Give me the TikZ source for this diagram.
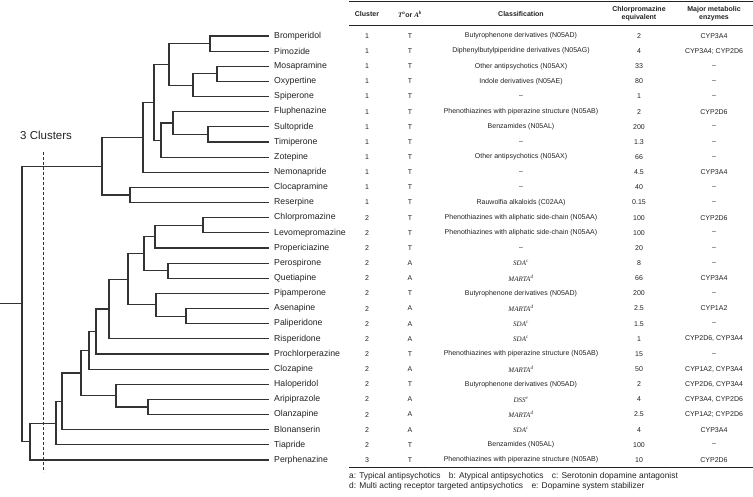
\documentclass[tikz,border=0pt]{standalone}
\usepackage{fontspec}
\setmainfont{Liberation Sans}
\newfontfamily\serfont{Liberation Serif}
\usetikzlibrary{calc}
\definecolor{ink}{HTML}{222222}
\definecolor{treeink}{HTML}{333333}
\newcommand\mycls[2]{{\serfont\itshape #1\textsuperscript{#2}}}
\newcommand\mrg[4]{%
  \coordinate (#1-m) at ($(#3)!0.5!(#4)$);
  \coordinate (#1-x) at (#2,0);
  \coordinate (#1) at (#1-x |- #1-m);
  \draw[tree] (#3) -| (#1) |- (#4);}
\tikzset{
  tree/.style={draw=treeink,line width=1.2pt},
  leaf/.style={anchor=west,inner sep=0pt,font=\fontsize{8.7}{10}\selectfont,text=ink},
  cell/.style={inner sep=0pt,font=\fontsize{7}{8}\selectfont,text=ink},
  hdr/.style={inner sep=0pt,align=center,font=\fontsize{7}{8}\selectfont\bfseries,text=ink},
  fn/.style={anchor=west,inner sep=0pt,font=\fontsize{8.4}{10}\selectfont,text=ink},
  rulethick/.style={draw=ink,line width=1pt},
  rulethin/.style={draw=ink,line width=0.6pt},
  cut/.style={draw=treeink,line width=0.8pt,dash pattern=on 3pt off 2pt}
}
\begin{document}
\begin{tikzpicture}[x=1pt,y=-1pt]
\useasboundingbox (0,0) rectangle (753,497);
% leaves and table rows
\foreach \i/\nm/\cl/\ty/\cs/\eq/\en in {
 1/{Bromperidol}/1/T/{Butyrophenone derivatives (N05AD)}/2/{CYP3A4},
 2/{Pimozide}/1/T/{Diphenylbutylpiperidine derivatives (N05AG)}/4/{CYP3A4; CYP2D6},
 3/{Mosapramine}/1/T/{Other antipsychotics (N05AX)}/33/{–},
 4/{Oxypertine}/1/T/{Indole derivatives (N05AE)}/80/{–},
 5/{Spiperone}/1/T/{–}/1/{–},
 6/{Fluphenazine}/1/T/{Phenothiazines with piperazine structure (N05AB)}/2/{CYP2D6},
 7/{Sultopride}/1/T/{Benzamides (N05AL)}/200/{–},
 8/{Timiperone}/1/T/{–}/1.3/{–},
 9/{Zotepine}/1/T/{Other antipsychotics (N05AX)}/66/{–},
 10/{Nemonapride}/1/T/{–}/4.5/{CYP3A4},
 11/{Clocapramine}/1/T/{–}/40/{–},
 12/{Reserpine}/1/T/{Rauwolfia alkaloids (C02AA)}/0.15/{–},
 13/{Chlorpromazine}/2/T/{Phenothiazines with aliphatic side-chain (N05AA)}/100/{CYP2D6},
 14/{Levomepromazine}/2/T/{Phenothiazines with aliphatic side-chain (N05AA)}/100/{–},
 15/{Propericiazine}/2/T/{–}/20/{–},
 16/{Perospirone}/2/A/{\mycls{SDA}{c}}/8/{–},
 17/{Quetiapine}/2/A/{\mycls{MARTA}{d}}/66/{CYP3A4},
 18/{Pipamperone}/2/T/{Butyrophenone derivatives (N05AD)}/200/{–},
 19/{Asenapine}/2/A/{\mycls{MARTA}{d}}/2.5/{CYP1A2},
 20/{Paliperidone}/2/A/{\mycls{SDA}{c}}/1.5/{–},
 21/{Risperidone}/2/A/{\mycls{SDA}{c}}/1/{CYP2D6, CYP3A4},
 22/{Prochlorperazine}/2/T/{Phenothiazines with piperazine structure (N05AB)}/15/{–},
 23/{Clozapine}/2/A/{\mycls{MARTA}{d}}/50/{CYP1A2, CYP3A4},
 24/{Haloperidol}/2/T/{Butyrophenone derivatives (N05AD)}/2/{CYP2D6, CYP3A4},
 25/{Aripiprazole}/2/A/{\mycls{DSS}{e}}/4/{CYP3A4, CYP2D6},
 26/{Olanzapine}/2/A/{\mycls{MARTA}{d}}/2.5/{CYP1A2; CYP2D6},
 27/{Blonanserin}/2/A/{\mycls{SDA}{c}}/4/{CYP3A4},
 28/{Tiapride}/2/T/{Benzamides (N05AL)}/100/{–},
 29/{Perphenazine}/3/T/{Phenothiazines with piperazine structure (N05AB)}/10/{CYP2D6}}{
  \pgfmathsetmacro\yy{36+(\i-1)*15.143}
  \coordinate (t\i) at (269,\yy);
  \node[leaf] (L\i) at (274,\yy) {\nm};
  \node[cell] (cl\i) at (367,\yy) {\cl};
  \node[cell] (ty\i) at (410,\yy) {\ty};
  \node[cell] (cs\i) at (521,\yy) {\cs};
  \node[cell] (eq\i) at (639,\yy) {\eq};
  \node[cell] (en\i) at (714,\yy) {\en};
}
% dendrogram
\mrg{c1}{210}{t1}{t2}
\mrg{c2}{217}{t3}{t4}
\mrg{c3}{193}{c2}{t5}
\mrg{c4}{169}{c1}{c3}
\mrg{c5}{208}{t7}{t8}
\mrg{c6}{173}{t6}{c5}
\mrg{c7}{161}{c6}{t9}
\mrg{c8}{154}{c4}{c7}
\mrg{c9}{143}{c8}{t10}
\mrg{c10}{130}{t11}{t12}
\mrg{c11}{102}{c9}{c10}
\mrg{c12}{203}{t13}{t14}
\mrg{c13}{155}{c12}{t15}
\mrg{c14}{168}{t16}{t17}
\mrg{c15}{144}{c13}{c14}
\mrg{c16}{186}{t19}{t20}
\mrg{c17}{156}{t18}{c16}
\mrg{c18}{128}{c15}{c17}
\mrg{c19}{109}{c18}{t21}
\mrg{c20}{96}{c19}{t22}
\mrg{c21}{89}{c20}{t23}
\mrg{c22}{148}{t25}{t26}
\mrg{c23}{116}{t24}{c22}
\mrg{c24}{81}{c21}{c23}
\mrg{c25}{62}{c24}{t27}
\mrg{c26}{56}{c25}{t28}
\mrg{c27}{30}{c26}{t29}
\mrg{root}{22}{c11}{c27}
\coordinate (stemx) at (0,0);
\draw[tree] (root) -- (root -| stemx);
% cut line
\coordinate (cutA) at (43,152);
\coordinate (cutB) at (43,472);
\draw[cut] (cutA) -- (cutB);
\node[anchor=west,inner sep=0pt,font=\fontsize{11.5}{13}\selectfont,text=ink] (clus) at (20,135.5) {3 Clusters};
% table rules and header
\draw[rulethick] (349,2) -- (753,2);
\draw[rulethin] (349,25) -- (753,25);
\draw[rulethick] (349,467) -- (753,467);
\node[hdr] (h1) at (367,14) {Cluster};
\node[hdr] (h2) at (410,14) {\mycls{T}{a}or \mycls{A}{b}};
\node[hdr] (h3) at (521,14) {Classification};
\node[hdr] (h4) at (639,14) {Chlorpromazine\\equivalent};
\node[hdr] (h5) at (714,14) {Major metabolic\\enzymes};
% footnotes
\node[fn] (f1) at (349,476) {a: Typical antipsychotics\quad b: Atypical antipsychotics\quad c: Serotonin dopamine antagonist};
\node[fn] (f2) at (349,486) {d: Multi acting receptor targeted antipsychotics\quad e: Dopamine system stabilizer};
\end{tikzpicture}
\end{document}
